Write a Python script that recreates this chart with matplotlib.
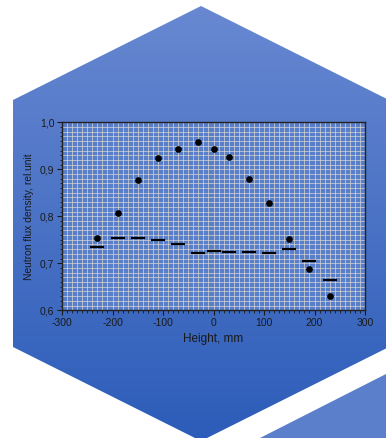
import numpy as np
import matplotlib
matplotlib.use('Agg')
import matplotlib.pyplot as plt
from matplotlib.patches import Polygon
from matplotlib.ticker import MultipleLocator, FuncFormatter

plt.rcParams['font.family'] = ['Liberation Sans', 'DejaVu Sans']

# Data
height = [-230, -190, -150, -110, -70, -30, 0, 30, 70, 110, 150, 190, 230]
flux_dots = [0.754, 0.806, 0.877, 0.923, 0.943, 0.958, 0.944, 0.926,
             0.879, 0.829, 0.752, 0.688, 0.630]
flux_dash = [0.735, 0.754, 0.753, 0.749, 0.742, 0.722, 0.727, 0.723,
             0.725, 0.721, 0.730, 0.704, 0.664]

W, H = 386, 438
fig = plt.figure(figsize=(W / 100, H / 100), dpi=100)
fig.patch.set_facecolor('white')

# background hexagons (pixel coords, y down)
bg = fig.add_axes([0, 0, 1, 1])
bg.set_xlim(0, W)
bg.set_ylim(H, 0)
bg.axis('off')

grad = np.linspace(0, 1, 256)[:, None]
top_c = np.array([0x68, 0x88, 0xd1]) / 255
bot_c = np.array([0x2c, 0x5c, 0xb9]) / 255
img = top_c + (bot_c - top_c) * grad[..., None]
img = np.repeat(img, 2, axis=1)

hexa = Polygon([(201, 6), (389, 100), (389, 347), (201, 441), (13, 347), (13, 100)],
               closed=True, facecolor='none', edgecolor='none')
bg.add_patch(hexa)
im = bg.imshow(img, extent=[0, W, 441, 6], aspect='auto', zorder=0)
im.set_clip_path(hexa)

hexb = Polygon([(260, 438), (386, 374), (400, 367), (400, 450), (250, 450)],
               closed=True, facecolor='#5b7fca', edgecolor='none')
bg.add_patch(hexb)

# chart
ax = fig.add_axes([62 / W, 1 - 310.3 / H, 303 / W, 188 / H])
ax.set_facecolor('#5a7fca')
ax.set_xlim(-300, 300)
ax.set_ylim(0.6, 1.0)

ax.xaxis.set_major_locator(MultipleLocator(100))
ax.xaxis.set_minor_locator(MultipleLocator(10))
ax.yaxis.set_major_locator(MultipleLocator(0.1))
ax.yaxis.set_minor_locator(MultipleLocator(0.01))
ax.grid(which='both', color='#e2ded2', linewidth=0.5, alpha=0.9)
ax.set_axisbelow(True)

ax.plot(height, flux_dots, 'o', color='black', markersize=3.8, zorder=3)
ax.plot(height, flux_dash, '_', color='black', markersize=9.5,
        markeredgewidth=1.6, zorder=3)

ax.yaxis.set_major_formatter(FuncFormatter(lambda v, p: f'{v:.1f}'.replace('.', ',')))
ax.xaxis.set_major_formatter(FuncFormatter(lambda v, p: f'{v:.0f}'))
ax.tick_params(which='major', direction='out', length=3.5, width=0.8,
               labelsize=7.5, colors='#1a1a1a', pad=2)
ax.tick_params(which='minor', direction='out', length=1.8, width=0.6, colors='#1a1a1a')
for s in ax.spines.values():
    s.set_color('#222222')
    s.set_linewidth(1.0)

ax.set_xlabel('Height, mm', fontsize=8.5, color='#1a1a1a', labelpad=4)
ax.set_ylabel('Neutron flux density, rel.unit', fontsize=7.4, color='#1a1a1a', labelpad=4)

fig.savefig('out.png', dpi=100)
